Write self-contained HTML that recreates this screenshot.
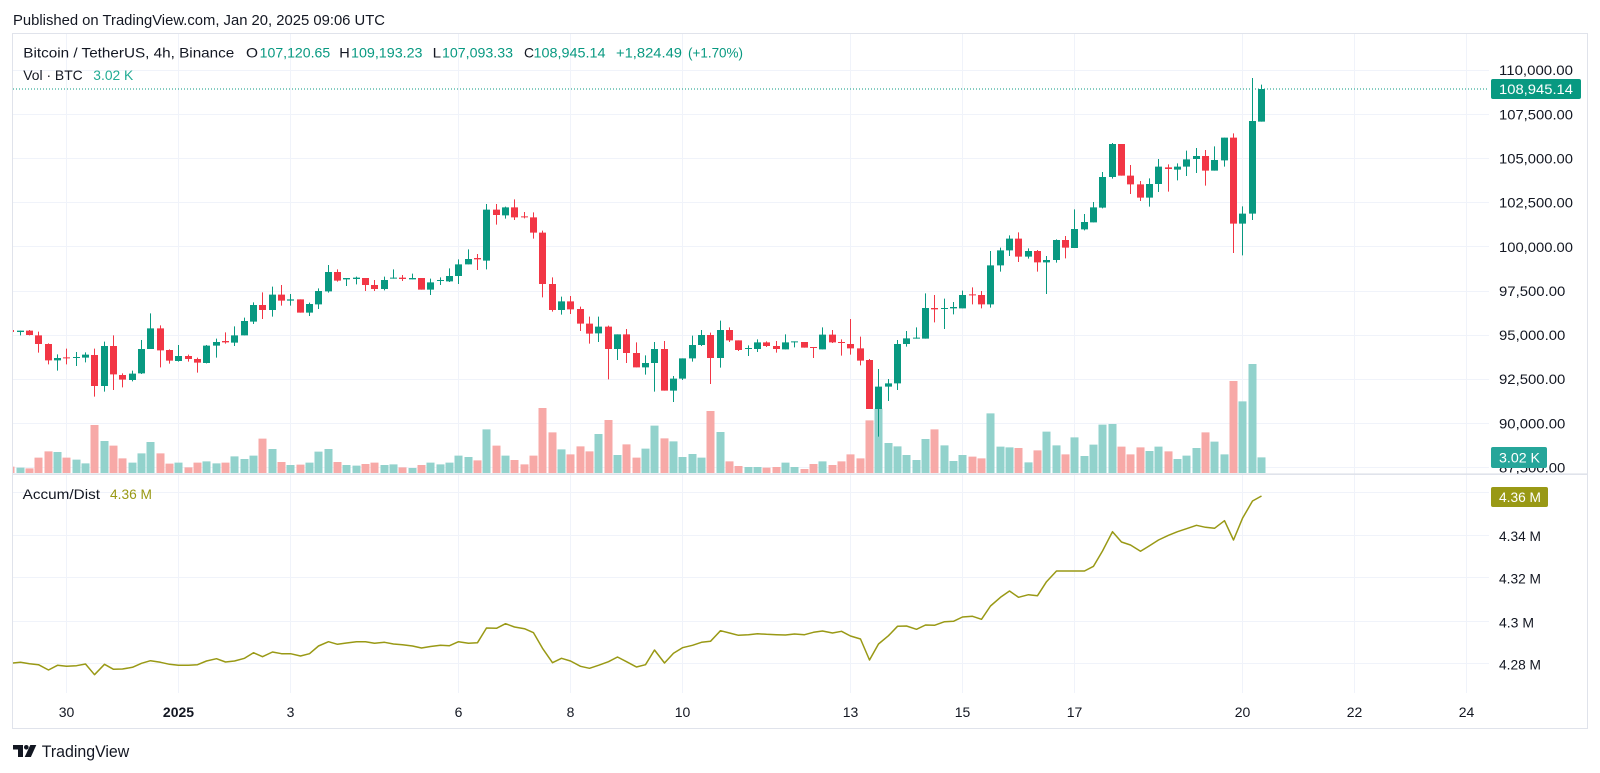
<!DOCTYPE html>
<html><head><meta charset="utf-8"><style>html,body{margin:0;padding:0;background:#fff;}svg{display:block;}</style></head>
<body>
<svg width="1600" height="773" viewBox="0 0 1600 773" xmlns="http://www.w3.org/2000/svg" font-family="'Liberation Sans', sans-serif">
<defs>
<clipPath id="cm"><rect x="13" y="34" width="1476" height="440"/></clipPath>
<clipPath id="ci"><rect x="13" y="475" width="1476" height="218"/></clipPath>
<clipPath id="cp"><rect x="1489" y="34" width="98" height="440"/></clipPath>
</defs>
<rect width="1600" height="773" fill="#fff"/>
<text x="13" y="25" font-size="15" fill="#131722" textLength="372" lengthAdjust="spacingAndGlyphs">Published on TradingView.com, Jan 20, 2025 09:06 UTC</text>
<rect x="12.5" y="33.5" width="1575" height="695" fill="none" stroke="#e0e3eb" stroke-width="1"/>
<g stroke="#f0f3fa" stroke-width="1">
<path d="M13 70.5H1489M13 114.5H1489M13 158.5H1489M13 202.5H1489M13 246.5H1489M13 291.5H1489M13 335.5H1489M13 379.5H1489M13 423.5H1489M13 467.5H1489"/>
<path d="M13 492.5H1489M13 535.5H1489M13 577.5H1489M13 621.5H1489M13 663.5H1489"/>
<path d="M66.5 34V693M178.5 34V693M290.5 34V693M458.5 34V693M570.5 34V693M682.5 34V693M850.5 34V693M962.5 34V693M1074.5 34V693M1242.5 34V693M1354.5 34V693M1466.5 34V693"/>
</g>
<line x1="13" y1="474.2" x2="1587" y2="474.2" stroke="#e0e3eb" stroke-width="1.6"/>
<g clip-path="url(#cm)">
<g transform="translate(0,250) scale(1,0.333333)">
<path fill="#92d2cc" d="M16.5 653h8V669h-8z M53.5 606h8V669h-8z M72.5 629h8V669h-8z M81.5 640h8V669h-8z M100.5 573h8V669h-8z M128.5 638h8V669h-8z M137.5 610h8V669h-8z M146.5 576h8V669h-8z M174.5 638h8V669h-8z M202.5 634h8V669h-8z M212.5 640h8V669h-8z M230.5 619h8V669h-8z M240.5 627h8V669h-8z M249.5 617h8V669h-8z M268.5 597h8V669h-8z M286.5 645h8V669h-8z M305.5 638h8V669h-8z M314.5 605h8V669h-8z M324.5 597h8V669h-8z"/>
<path fill="#f7a9a7" d="M6.5 650h8V669h-8z M25.5 655h8V669h-8z M34.5 623h8V669h-8z M44.5 604h8V669h-8z M62.5 623h8V669h-8z M90.5 525h8V669h-8z M109.5 587h8V669h-8z M118.5 625h8V669h-8z M156.5 610h8V669h-8z M165.5 641h8V669h-8z M184.5 652h8V669h-8z M193.5 638h8V669h-8z M221.5 638h8V669h-8z M258.5 566h8V669h-8z M277.5 636h8V669h-8z M296.5 644h8V669h-8z"/>
<path stroke="#089981" stroke-width="1" fill="none" d="M20.5 242V256M57.5 313V362M76.5 306V348M85.5 307V337M104.5 275V425M132.5 362V394M141.5 270V372M150.5 190V297M178.5 285V335M206.5 285V340M216.5 266V323M234.5 229V288M244.5 203V256M253.5 157V222M272.5 110V200M290.5 132V167M309.5 158V198M318.5 115V177M328.5 45V128"/>
<path fill="#089981" d="M17 242h7V246h-7z M54 324h7V331h-7z M73 321h7V324h-7z M82 314h7V323h-7z M101 288h7V408h-7z M129 371h7V390h-7z M138 297h7V370h-7z M147 235h7V297h-7z M175 318h7V333h-7z M203 287h7V339h-7z M213 276h7V287h-7z M231 256h7V278h-7z M241 213h7V256h-7z M250 165h7V215h-7z M269 134h7V180h-7z M287 148h7V152h-7z M306 162h7V188h-7z M315 123h7V163h-7z M325 66h7V124h-7z"/>
<path stroke="#f23645" stroke-width="1" fill="none" d="M10.5 238V248M29.5 240V256M38.5 245V308M48.5 280V343M66.5 296V343M94.5 296V440M113.5 256V420M122.5 370V412M160.5 226V352M169.5 298V341M188.5 314V335M197.5 323V368M225.5 247V281M262.5 127V207M281.5 105V167M300.5 148V188"/>
<path fill="#f23645" d="M7 240h7V246h-7z M26 242h7V255h-7z M35 256h7V282h-7z M45 282h7V331h-7z M63 322h7V325h-7z M91 315h7V408h-7z M110 288h7V373h-7z M119 375h7V389h-7z M157 235h7V301h-7z M166 300h7V332h-7z M185 318h7V327h-7z M194 327h7V338h-7z M222 273h7V277h-7z M259 165h7V180h-7z M278 134h7V152h-7z M297 148h7V188h-7z"/>
</g>
<g transform="translate(0,180) scale(1,0.333333)">
<path fill="#92d2cc" d="M342.5 855h8V879h-8z M352.5 857h8V879h-8z M380.5 855h8V879h-8z M389.5 853h8V879h-8z M408.5 864h8V879h-8z M426.5 848h8V879h-8z M436.5 853h8V879h-8z M445.5 848h8V879h-8z M454.5 827h8V879h-8z M464.5 831h8V879h-8z M482.5 748h8V879h-8z M501.5 827h8V879h-8z M557.5 808h8V879h-8z M594.5 762h8V879h-8z M613.5 825h8V879h-8z M641.5 806h8V879h-8z"/>
<path fill="#f7a9a7" d="M333.5 846h8V879h-8z M361.5 852h8V879h-8z M370.5 848h8V879h-8z M398.5 862h8V879h-8z M417.5 855h8V879h-8z M473.5 841h8V879h-8z M492.5 797h8V879h-8z M510.5 840h8V879h-8z M520.5 853h8V879h-8z M529.5 827h8V879h-8z M538.5 684h8V879h-8z M548.5 757h8V879h-8z M566.5 823h8V879h-8z M576.5 799h8V879h-8z M585.5 814h8V879h-8z M604.5 720h8V879h-8z M622.5 793h8V879h-8z M632.5 833h8V879h-8z"/>
<path stroke="#089981" stroke-width="1" fill="none" d="M346.5 294V318M356.5 290V313M384.5 290V331M393.5 268V296M412.5 281V298M430.5 296V345M440.5 292V315M449.5 265V306M458.5 238V312M468.5 208V253M486.5 72V268M505.5 80V116M561.5 350V404M598.5 410V486M617.5 463V540M645.5 526V584"/>
<path fill="#089981" d="M343 294h7V298h-7z M353 293h7V297h-7z M381 300h7V327h-7z M390 293h7V296h-7z M409 294h7V298h-7z M427 307h7V329h-7z M437 300h7V303h-7z M446 288h7V304h-7z M455 253h7V288h-7z M465 237h7V253h-7z M483 89h7V242h-7z M502 82h7V106h-7z M558 364h7V390h-7z M595 440h7V460h-7z M614 463h7V507h-7z M642 549h7V562h-7z"/>
<path stroke="#f23645" stroke-width="1" fill="none" d="M337.5 268V305M365.5 294V333M374.5 300V333M402.5 285V303M421.5 294V329M477.5 222V270M496.5 72V134M514.5 58V120M524.5 96V115M533.5 97V176M542.5 152V352M552.5 292V395M570.5 348V402M580.5 380V453M589.5 410V491M608.5 437V598M626.5 447V549M636.5 487V562"/>
<path fill="#f23645" d="M334 276h7V302h-7z M362 294h7V315h-7z M371 315h7V327h-7z M399 293h7V297h-7z M418 294h7V329h-7z M474 234h7V238h-7z M493 89h7V105h-7z M511 82h7V112h-7z M521 109h7V112h-7z M530 112h7V158h-7z M539 158h7V312h-7z M549 312h7V390h-7z M567 364h7V388h-7z M577 387h7V431h-7z M586 431h7V461h-7z M605 440h7V507h-7z M623 463h7V519h-7z M633 519h7V562h-7z"/>
</g>
<g transform="translate(0,270) scale(1,0.333333)">
<path fill="#92d2cc" d="M650.5 467h8V609h-8z M669.5 514h8V609h-8z M678.5 561h8V609h-8z M688.5 552h8V609h-8z M697.5 563h8V609h-8z M716.5 486h8V609h-8z M744.5 591h8V609h-8z M753.5 591h8V609h-8z M781.5 578h8V609h-8z M790.5 591h8V609h-8z M818.5 574h8V609h-8z M874.5 416h8V609h-8z M884.5 519h8V609h-8z M893.5 529h8V609h-8z M902.5 555h8V609h-8z M912.5 570h8V609h-8z M921.5 507h8V609h-8z M940.5 526h8V609h-8z M949.5 573h8V609h-8z M958.5 555h8V609h-8z"/>
<path fill="#f7a9a7" d="M660.5 505h8V609h-8z M706.5 423h8V609h-8z M725.5 574h8V609h-8z M734.5 588h8V609h-8z M762.5 593h8V609h-8z M772.5 591h8V609h-8z M800.5 597h8V609h-8z M809.5 582h8V609h-8z M828.5 585h8V609h-8z M837.5 574h8V609h-8z M846.5 553h8V609h-8z M856.5 565h8V609h-8z M865.5 451h8V609h-8z M930.5 478h8V609h-8z"/>
<path stroke="#089981" stroke-width="1" fill="none" d="M654.5 216V365M673.5 318V396M682.5 265V330M692.5 197V275M701.5 180V228M720.5 152V293M748.5 226V258M757.5 208V246M785.5 193V238M794.5 214V232M822.5 172V238M878.5 297V500M888.5 327V393M897.5 210V360M906.5 183V230M916.5 172V206M925.5 70V206M944.5 86V177M953.5 96V133M962.5 62V115"/>
<path fill="#089981" d="M651 237h7V279h-7z M670 326h7V362h-7z M679 265h7V326h-7z M689 225h7V265h-7z M698 195h7V225h-7z M717 180h7V264h-7z M745 234h7V237h-7z M754 217h7V237h-7z M782 217h7V238h-7z M791 214h7V217h-7z M819 194h7V238h-7z M875 350h7V417h-7z M885 340h7V350h-7z M894 222h7V340h-7z M903 205h7V222h-7z M913 203h7V206h-7z M922 114h7V206h-7z M941 114h7V117h-7z M950 111h7V115h-7z M959 75h7V115h-7z"/>
<path stroke="#f23645" stroke-width="1" fill="none" d="M664.5 213V362M710.5 188V342M729.5 172V216M738.5 211V243M766.5 214V231M776.5 213V248M804.5 216V233M813.5 231V264M832.5 180V219M841.5 208V257M850.5 147V254M860.5 200V286M869.5 267V417M934.5 75V157"/>
<path fill="#f23645" d="M661 237h7V362h-7z M707 195h7V264h-7z M726 180h7V211h-7z M735 211h7V240h-7z M763 217h7V228h-7z M773 228h7V237h-7z M801 216h7V233h-7z M810 231h7V234h-7z M829 194h7V217h-7z M838 216h7V219h-7z M847 222h7V235h-7z M857 235h7V272h-7z M866 270h7V417h-7z M931 114h7V118h-7z"/>
</g>
<g transform="translate(0,70) scale(1,0.333333)">
<path fill="#92d2cc" d="M986.5 1030h8V1209h-8z M996.5 1130h8V1209h-8z M1005.5 1132h8V1209h-8z M1024.5 1177h8V1209h-8z M1042.5 1085h8V1209h-8z M1052.5 1126h8V1209h-8z M1070.5 1102h8V1209h-8z M1080.5 1158h8V1209h-8z M1089.5 1124h8V1209h-8z M1098.5 1064h8V1209h-8z M1108.5 1062h8V1209h-8z M1145.5 1143h8V1209h-8z M1154.5 1130h8V1209h-8z M1173.5 1167h8V1209h-8z M1182.5 1157h8V1209h-8z M1192.5 1134h8V1209h-8z M1210.5 1115h8V1209h-8z M1220.5 1153h8V1209h-8z M1238.5 994h8V1209h-8z M1248.5 882h8V1209h-8z M1257.5 1162h8V1209h-8z"/>
<path fill="#f7a9a7" d="M968.5 1160h8V1209h-8z M977.5 1165h8V1209h-8z M1014.5 1134h8V1209h-8z M1033.5 1141h8V1209h-8z M1061.5 1153h8V1209h-8z M1117.5 1130h8V1209h-8z M1126.5 1153h8V1209h-8z M1136.5 1132h8V1209h-8z M1164.5 1144h8V1209h-8z M1201.5 1087h8V1209h-8z M1229.5 933h8V1209h-8z"/>
<path stroke="#089981" stroke-width="1" fill="none" d="M990.5 543V713M1000.5 533V605M1009.5 496V558M1028.5 535V566M1046.5 558V672M1056.5 508V578M1074.5 418V534M1084.5 432V481M1093.5 396V457M1102.5 306V415M1112.5 219V326M1149.5 325V410M1158.5 267V366M1177.5 280V331M1186.5 242V318M1196.5 234V309M1214.5 229V302M1224.5 203V290M1242.5 409V556M1252.5 24V450M1261.5 44V155"/>
<path fill="#089981" d="M987 586h7V703h-7z M997 541h7V586h-7z M1006 506h7V541h-7z M1025 543h7V560h-7z M1043 570h7V577h-7z M1053 510h7V570h-7z M1071 477h7V534h-7z M1081 456h7V478h-7z M1090 412h7V457h-7z M1099 321h7V413h-7z M1109 222h7V321h-7z M1146 342h7V383h-7z M1155 290h7V342h-7z M1174 290h7V299h-7z M1183 268h7V290h-7z M1193 258h7V267h-7z M1211 270h7V302h-7z M1221 203h7V271h-7z M1239 431h7V461h-7z M1249 153h7V431h-7z M1258 57h7V155h-7z"/>
<path stroke="#f23645" stroke-width="1" fill="none" d="M972.5 652V703M981.5 663V715M1018.5 487V576M1037.5 540V605M1065.5 498V565M1121.5 222V317M1130.5 285V372M1140.5 333V393M1168.5 283V365M1205.5 240V347M1233.5 190V549"/>
<path fill="#f23645" d="M969 673h7V676h-7z M978 675h7V703h-7z M1015 506h7V560h-7z M1034 543h7V577h-7z M1062 510h7V533h-7z M1118 222h7V317h-7z M1127 317h7V343h-7z M1137 343h7V383h-7z M1165 292h7V297h-7z M1202 258h7V302h-7z M1230 203h7V461h-7z"/>
</g>
<line x1="13" y1="89" x2="1489" y2="89" stroke="#089981" stroke-width="1" stroke-dasharray="1 2"/>
</g>
<g clip-path="url(#ci)">
<polyline fill="none" stroke="#999915" stroke-width="1.5" stroke-linejoin="round" points="10.5,663.3 20.5,662.3 29.5,663.7 38.5,664.7 48.5,670 57.5,665.3 66.5,666.3 76.5,665.7 85.5,664 94.5,674.7 104.5,664.3 113.5,669.3 122.5,669 132.5,667.3 141.5,663.3 150.5,660.7 160.5,662.3 169.5,664.3 178.5,665.3 188.5,665.3 197.5,664.7 206.5,661 216.5,658.7 225.5,662 234.5,661 244.5,658.3 253.5,652.7 262.5,656.7 272.5,652 281.5,653.7 290.5,653.7 300.5,656 309.5,653.7 318.5,646 328.5,641.7 337.5,644.3 346.5,643 356.5,641.7 365.5,641.7 374.5,643.3 384.5,642.3 393.5,644 402.5,644.7 412.5,646 421.5,648 430.5,646.5 440.5,645.3 449.5,645.7 458.5,641.7 468.5,643.3 477.5,642.7 486.5,628 496.5,628.3 505.5,623.7 514.5,627 524.5,628.7 533.5,632.7 542.5,648.3 552.5,662.7 561.5,658.3 570.5,661 580.5,666.3 589.5,668.3 598.5,665.3 608.5,661.7 617.5,657 626.5,661.7 636.5,667 645.5,664.7 654.5,650 664.5,663 673.5,653.3 682.5,647.7 692.5,645.3 701.5,642.3 710.5,641.3 720.5,630.7 729.5,633 738.5,635.3 748.5,634.7 757.5,633.7 766.5,634.3 776.5,634.7 785.5,635 794.5,634 804.5,634.7 813.5,632.3 822.5,631 832.5,633 841.5,631.3 850.5,636 860.5,639 869.5,660 878.5,644 888.5,635.7 897.5,626.3 906.5,626 916.5,629.3 925.5,625 934.5,625.3 944.5,621.7 953.5,621.3 962.5,617 972.5,616.3 981.5,619.3 990.5,606 1000.5,597.3 1009.5,591 1018.5,597.3 1028.5,594.7 1037.5,595.7 1046.5,581.7 1056.5,571 1065.5,571 1074.5,571 1084.5,571 1093.5,566.3 1102.5,551 1112.5,531.7 1121.5,542 1130.5,545 1140.5,551.3 1149.5,545.7 1158.5,540 1168.5,535.3 1177.5,531.7 1186.5,528.7 1196.5,525.3 1205.5,527.3 1214.5,528.3 1224.5,520.7 1233.5,540 1242.5,518.3 1252.5,501 1261.5,496"/>
</g>
<!-- legend -->
<g font-size="14">
<text x="23.3" y="57.5" fill="#131722" textLength="211" lengthAdjust="spacingAndGlyphs">Bitcoin / TetherUS, 4h, Binance</text>
<text x="246" y="57.5" fill="#131722" textLength="12" lengthAdjust="spacingAndGlyphs">O</text>
<text x="259.7" y="57.5" fill="#089981" textLength="70.5" lengthAdjust="spacingAndGlyphs">107,120.65</text>
<text x="339.3" y="57.5" fill="#131722" textLength="10.5" lengthAdjust="spacingAndGlyphs">H</text>
<text x="351" y="57.5" fill="#089981" textLength="71.5" lengthAdjust="spacingAndGlyphs">109,193.23</text>
<text x="432.7" y="57.5" fill="#131722" textLength="8.5" lengthAdjust="spacingAndGlyphs">L</text>
<text x="442" y="57.5" fill="#089981" textLength="71" lengthAdjust="spacingAndGlyphs">107,093.33</text>
<text x="524" y="57.5" fill="#131722" textLength="10" lengthAdjust="spacingAndGlyphs">C</text>
<text x="533.5" y="57.5" fill="#089981" textLength="72" lengthAdjust="spacingAndGlyphs">108,945.14</text>
<text x="616" y="57.5" fill="#089981" textLength="66" lengthAdjust="spacingAndGlyphs">+1,824.49</text>
<text x="688" y="57.5" fill="#089981" textLength="55" lengthAdjust="spacingAndGlyphs">(+1.70%)</text>
<text x="23.3" y="80" fill="#131722" textLength="59.4" lengthAdjust="spacingAndGlyphs">Vol · BTC</text>
<text x="93.3" y="80" fill="#22ab94" textLength="40" lengthAdjust="spacingAndGlyphs">3.02 K</text>
<text x="22.7" y="499" fill="#131722" textLength="77.3" lengthAdjust="spacingAndGlyphs">Accum/Dist</text>
<text x="110" y="499" fill="#999915" textLength="42" lengthAdjust="spacingAndGlyphs">4.36 M</text>
</g>
<!-- price axis -->
<g font-size="14" fill="#131722">
<text x="1499" y="75" textLength="74" lengthAdjust="spacingAndGlyphs">110,000.00</text>
<text x="1499" y="119.3" textLength="74" lengthAdjust="spacingAndGlyphs">107,500.00</text>
<text x="1499" y="163.5" textLength="74" lengthAdjust="spacingAndGlyphs">105,000.00</text>
<text x="1499" y="207.7" textLength="74" lengthAdjust="spacingAndGlyphs">102,500.00</text>
<text x="1499" y="251.8" textLength="74" lengthAdjust="spacingAndGlyphs">100,000.00</text>
<text x="1499" y="296" textLength="66.3" lengthAdjust="spacingAndGlyphs">97,500.00</text>
<text x="1499" y="340.1" textLength="66.3" lengthAdjust="spacingAndGlyphs">95,000.00</text>
<text x="1499" y="384.2" textLength="66.3" lengthAdjust="spacingAndGlyphs">92,500.00</text>
<text x="1499" y="428.3" textLength="66.3" lengthAdjust="spacingAndGlyphs">90,000.00</text>
<text x="1499" y="472.5" textLength="66.3" lengthAdjust="spacingAndGlyphs" clip-path="url(#cp)">87,500.00</text>
<text x="1499" y="541" textLength="42" lengthAdjust="spacingAndGlyphs">4.34 M</text>
<text x="1499" y="583.3" textLength="42" lengthAdjust="spacingAndGlyphs">4.32 M</text>
<text x="1499" y="627.3" textLength="35" lengthAdjust="spacingAndGlyphs">4.3 M</text>
<text x="1499" y="669.3" textLength="42" lengthAdjust="spacingAndGlyphs">4.28 M</text>
</g>
<rect x="1491" y="79" width="90" height="20" rx="2" fill="#089981"/>
<text x="1499" y="94" font-size="14" fill="#fff" textLength="74" lengthAdjust="spacingAndGlyphs">108,945.14</text>
<rect x="1491" y="447" width="56" height="21" rx="2" fill="#26a69a"/>
<text x="1499" y="462.5" font-size="14" fill="#fff" textLength="41" lengthAdjust="spacingAndGlyphs">3.02 K</text>
<rect x="1491" y="487" width="57" height="20" rx="2" fill="#999915"/>
<text x="1499" y="502" font-size="14" fill="#fff" textLength="42" lengthAdjust="spacingAndGlyphs">4.36 M</text>
<!-- time axis -->
<g font-size="14" fill="#131722" text-anchor="middle">
<text x="66.5" y="717">30</text>
<text x="178.5" y="717" font-weight="bold">2025</text>
<text x="290.5" y="717">3</text>
<text x="458.5" y="717">6</text>
<text x="570.5" y="717">8</text>
<text x="682.5" y="717">10</text>
<text x="850.5" y="717">13</text>
<text x="962.5" y="717">15</text>
<text x="1074.5" y="717">17</text>
<text x="1242.5" y="717">20</text>
<text x="1354.5" y="717">22</text>
<text x="1466.5" y="717">24</text>
</g>
<!-- logo -->
<g fill="#131722">
<path d="M13 745h10v12h-5v-7.5h-5z"/>
<circle cx="26.3" cy="747.3" r="2.3"/>
<path d="M30.3 745h6l-5.4 12h-6.2z"/>
</g>
<text x="41.7" y="757" font-size="16.5" fill="#131722" textLength="87.6" lengthAdjust="spacingAndGlyphs">TradingView</text>
</svg>
</body></html>
